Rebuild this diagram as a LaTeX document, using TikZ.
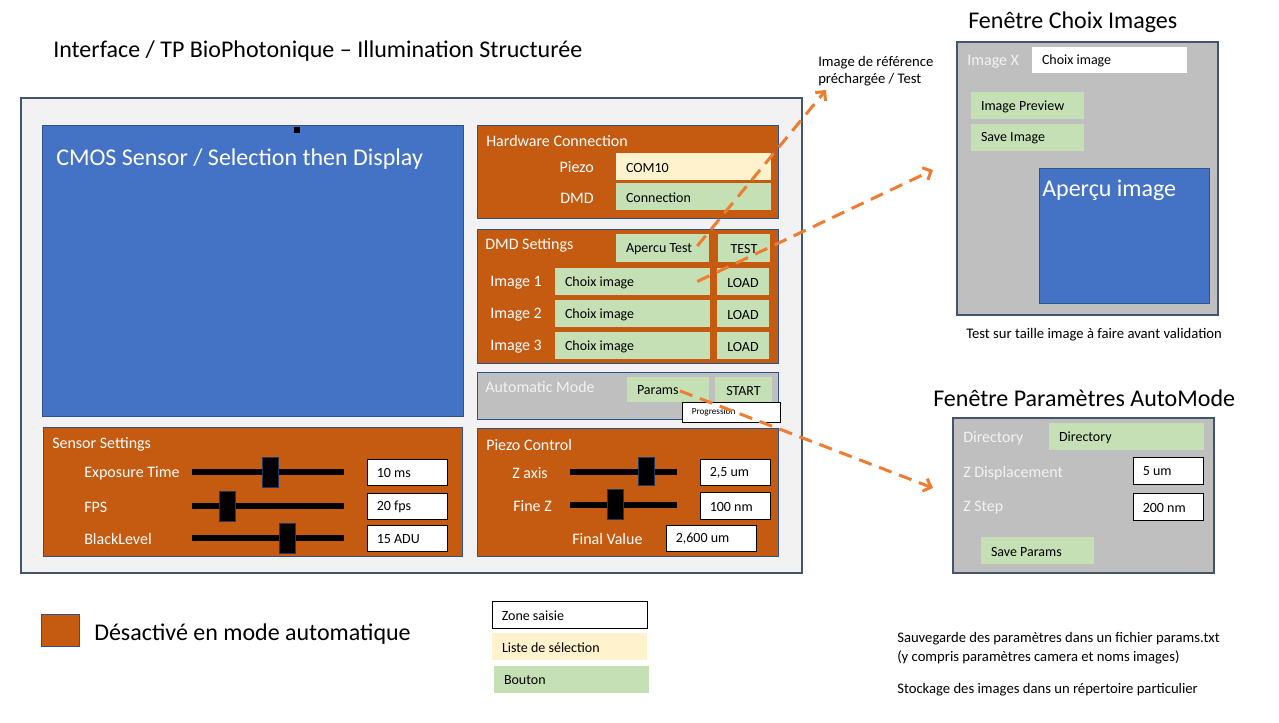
\documentclass[tikz,border=0pt]{standalone}
\usepackage{fontspec}
\setmainfont{Carlito}
\usetikzlibrary{fit,arrows.meta}

\tikzset{
  frame/.style={draw={rgb,255:red,68;green,84;blue,106}, fill={rgb,255:red,242;green,242;blue,242}, line width=1pt, inner sep=0pt},
  win/.style={draw={rgb,255:red,68;green,84;blue,106}, fill={rgb,255:red,191;green,191;blue,191}, line width=1pt, inner sep=0pt},
  panel/.style={draw={rgb,255:red,47;green,82;blue,143}, fill={rgb,255:red,197;green,90;blue,17}, line width=0.75pt, inner sep=0pt},
  cmos/.style={draw={rgb,255:red,47;green,82;blue,143}, fill={rgb,255:red,68;green,114;blue,196}, line width=0.75pt, inner sep=0pt},
  btn/.style={fill={rgb,255:red,197;green,224;blue,180}, inner sep=0pt},
  listbox/.style={fill={rgb,255:red,255;green,242;blue,204}, inner sep=0pt},
  valbox/.style={draw=black, fill=white, line width=0.75pt, inner sep=0pt},
  entry/.style={fill=white, inner sep=0pt},
  thumb/.style={draw={rgb,255:red,31;green,56;blue,100}, fill=black, line width=0.75pt, inner sep=0pt},
  track/.style={line width=4.5pt, black},
  intext/.style={label={[anchor=west, xshift=7.5pt, yshift=-0.75pt, inner sep=0pt, font=\fontsize{10.5}{12}\selectfont]180:#1}},
  ctext/.style={label={[yshift=-0.75pt, inner sep=0pt, font=\fontsize{10.5}{12}\selectfont]center:#1}},
  lbl/.style={inner sep=0pt, yshift=-0.75pt, text=white, font=\fontsize{12}{14}\selectfont},
  lighttext/.style={text={rgb,255:red,242;green,242;blue,242}},
  bigtxt/.style={inner sep=0pt, yshift=-1.5pt, font=\fontsize{18}{21}\selectfont},
  note/.style={inner sep=0pt, yshift=-1.5pt, font=\fontsize{11}{14}\selectfont},
  flow/.style={draw={rgb,255:red,237;green,125;blue,49}, line width=2.25pt, dash pattern=on 10pt off 6pt, -{Straight Barb[length=5pt,width=10pt]}}
}

\begin{document}
\begin{tikzpicture}[x=0.75pt,y=0.75pt,yscale=-1,xscale=1]
        \useasboundingbox (0,0) rectangle (1279,722);

        % Title
        \node[bigtxt, anchor=west] (title) at (53,49) {Interface / TP BioPhotonique -- Illumination Structurée};

        % Main window
        \node[frame, fit={(21,98) (802,573)}] (main) {};
        \node[cmos, fit={(42,125) (463,416)}] (cmos) {};
        \node[bigtxt, text=white, anchor=west] (cmostxt) at (56,157) {CMOS Sensor / Selection then Display};
        \node[fill=black, minimum size=4.5pt, inner sep=0pt] (handle) at (297,130) {};

        % Hardware Connection
        \node[panel, fit={(477,125) (778,218)}] (hw) {};
        \node[lbl, anchor=west] (hwtitle) at (486,140) {Hardware Connection};
        \node[lbl, anchor=east] (piezolbl) at (594,166) {Piezo};
        \node[listbox, fit={(616,153) (771,180)}, intext={COM10}] (com) {};
        \node[lbl, anchor=east] (dmdlbl) at (594,197) {DMD};
        \node[btn, fit={(616,183) (771,210)}, intext={Connection}] (dmdconn) {};

        % DMD Settings
        \node[panel, fit={(477,229) (778,363)}] (dmd) {};
        \node[lbl, anchor=west] (dmdtitle) at (485,244) {DMD Settings};
        \node[btn, fit={(616,234) (709,262)}, intext={Apercu Test}] (apercu) {};
        \node[btn, fit={(718,234) (770,262)}, ctext={TEST}] (test) {};
        \foreach \i/\y in {1/268,2/300,3/332}{
          \node[lbl, anchor=west] (img\i) at (490,\y+14) {Image \i};
          \node[btn, fit={(555,\y) (710,\y+27)}, intext={Choix image}] (choix\i) {};
          \node[btn, fit={(717,\y) (769,\y+27)}, ctext={LOAD}] (load\i) {};
        }

        % Automatic Mode
        \node[win, draw={rgb,255:red,47;green,82;blue,143}, line width=0.75pt, fit={(477,372) (778,419)}] (auto) {};
        \node[lbl, lighttext, anchor=west] (autotitle) at (485,386) {Automatic Mode};
        \node[btn, fit={(627,377) (709,402)}, intext={Params}] (params) {};
        \node[btn, fit={(715,377) (772,402)}, ctext={START}] (start) {};
        \node[valbox, fit={(682,402) (780,422)}, label={[anchor=west, xshift=7.5pt, inner sep=0pt, font=\fontsize{6.9}{8}\selectfont]180:Progression}] (prog) {};

        % Piezo Control
        \node[panel, fit={(477,428) (778,556)}] (piezo) {};
        \node[lbl, anchor=west] (piezotitle) at (486,444) {Piezo Control};
        \node[lbl, anchor=west] (zlbl) at (512,472) {Z axis};
        \draw[track] (570,472) -- (677,472);
        \node[thumb, fit={(638,457) (654,485)}] (zthumb) {};
        \node[valbox, fit={(700,459) (770,485)}, intext={2,5 um}] (zval) {};
        \node[lbl, anchor=west] (finelbl) at (513,505) {Fine Z};
        \draw[track] (570,505) -- (677,505);
        \node[thumb, fit={(607,489) (623,519)}] (finethumb) {};
        \node[valbox, fit={(700,492) (770,519)}, intext={100 nm}] (fineval) {};
        \node[lbl, anchor=west] (finallbl) at (572,538) {Final Value};
        \node[valbox, fit={(666,525) (756,551)}, intext={2,600 um}] (finalval) {};

        % Sensor Settings
        \node[panel, fit={(43,427) (462,556)}] (sensor) {};
        \node[lbl, anchor=west] (sensortitle) at (52,443) {Sensor Settings};
        \foreach \name/\y/\t/\v [count=\k] in {Exposure Time/472/262/10 ms, FPS/506/219/20 fps, BlackLevel/538/279/15 ADU}{
          \node[lbl, anchor=west] (slbl\k) at (84,\y) {\name};
          \draw[track] (192,\y) -- (344,\y);
          \node[thumb, fit={(\t,\y-15) (\t+16,\y+15)}] (sthumb\k) {};
          \node[valbox, fit={(367,\y-13) (447,\y+13)}, intext={\v}] (sval\k) {};
        }

        % Fenetre Choix Images
        \node[bigtxt, anchor=west] (wintitle1) at (968,20) {Fenêtre Choix Images};
        \node[win, fit={(957,42) (1218,315)}] (winimg) {};
        \node[lbl, lighttext, anchor=west] (imgxlbl) at (967,61) {Image X};
        \node[entry, fit={(1032,47) (1187,73)}, intext={Choix image}] (choixX) {};
        \node[btn, fit={(971,92) (1084,119)}, intext={Image Preview}] (preview) {};
        \node[btn, fit={(971,124) (1084,151)}, intext={Save Image}] (saveimg) {};
        \node[cmos, fit={(1039,168) (1209,303)}] (apercuimg) {};
        \node[bigtxt, text=white, anchor=west] (apercutxt) at (1042,188) {Aperçu image};
        \node[note, anchor=west] (tailletxt) at (966,333) {Test sur taille image à faire avant validation};

        % Fenetre Parametres AutoMode
        \node[bigtxt, anchor=west] (wintitle2) at (933,396) {Fenêtre Paramètres AutoMode};
        \node[win, fit={(953,418) (1214,573)}] (winauto) {};
        \node[lbl, lighttext, anchor=west] (dirlbl) at (963,437) {Directory};
        \node[btn, fit={(1049,423) (1204,450)}, intext={Directory}] (dir) {};
        \node[lbl, lighttext, anchor=west] (zdisplbl) at (963,472) {Z Displacement};
        \node[valbox, fit={(1133,457) (1203,484)}, intext={5 um}] (zdisp) {};
        \node[lbl, lighttext, anchor=west] (zsteplbl) at (963,507) {Z Step};
        \node[valbox, fit={(1133,493) (1203,520)}, intext={200 nm}] (zstep) {};
        \node[btn, fit={(981,537) (1094,564)}, intext={Save Params}] (saveparams) {};

        % Notes
        \node[note, anchor=north west, align=left, font=\fontsize{11}{12.75}\selectfont] (refnote) at (818,54) {Image de référence\\préchargée / Test};
        \node[note, anchor=west, align=left, font=\fontsize{11}{14.25}\selectfont] (savenote) at (897,646) {Sauvegarde des paramètres dans un fichier params.txt\\(y compris paramètres camera et noms images)};
        \node[note, anchor=west] (stocknote) at (897,688) {Stockage des images dans un répertoire particulier};

        % Legend
        \node[panel, fit={(41,614) (79,646)}] (legdis) {};
        \node[bigtxt, anchor=west] (legdistxt) at (94,632) {Désactivé en mode automatique};
        \node[valbox, fit={(492,601) (647,628)}, intext={Zone saisie}] (legentry) {};
        \node[listbox, fit={(492,633) (647,660)}, intext={Liste de sélection}] (leglist) {};
        \node[btn, fit={(494,666) (649,693)}, intext={Bouton}] (legbtn) {};

        % Dashed links
        \coordinate (reftip) at (826,90);
        \coordinate (imgtip) at (933,170);
        \coordinate (autotip) at (933,488);
        \draw[flow] ([xshift=-9pt,yshift=-1.5pt]apercu.east) -- (reftip);
        \draw[flow] ([xshift=-9.75pt]choix1.east) -- (imgtip);
        \draw[flow] ([xshift=-22pt,yshift=1pt]params.east) -- (autotip);

\end{tikzpicture}
\end{document}
